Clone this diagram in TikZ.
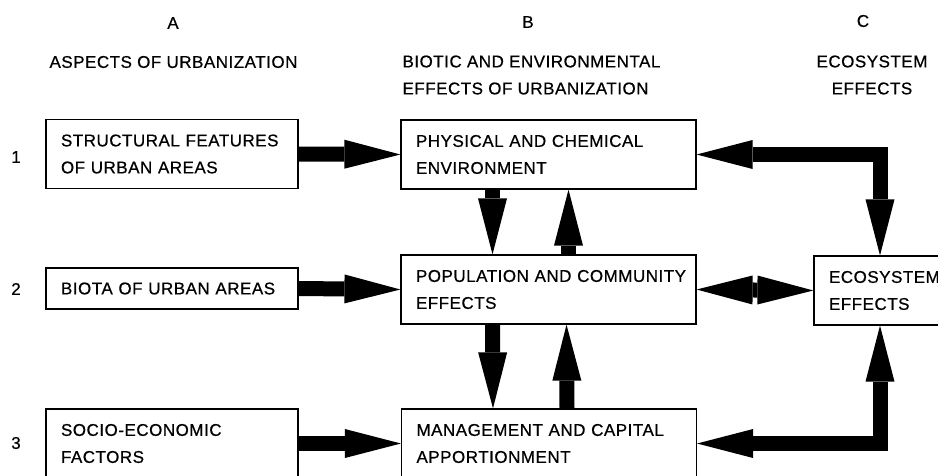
\documentclass[tikz,border=0pt]{standalone}
\usepackage{fontspec}
\setmainfont[LetterSpace=3, FakeBold=0.6]{Liberation Sans}
\usetikzlibrary{arrows.meta}

\begin{document}
\begin{tikzpicture}[x=1pt, y=-1pt,
    every node/.style={font=\fontsize{17pt}{27pt}\selectfont},
    box/.style={draw, line width=1.2pt, align=left, inner xsep=15pt, inner ysep=0pt, minimum height=69pt, text width=#1},
    fat/.style={line width=15pt, line join=miter, -{Triangle[length=56pt, width=29pt, line width=0pt]}},
    fatboth/.style={line width=15pt, line join=miter, {Triangle[length=56pt, width=29pt, line width=0pt]}-{Triangle[length=56pt, width=29pt, line width=0pt]}}]
  \useasboundingbox (0,0) rectangle (938,475);

  % headings
  \node (colA) at (173,23) {A};
  \node (colB) at (528,22) {B};
  \node (colC) at (863,21) {C};
  \node [anchor=west] (headA) at (46,62) {ASPECTS OF URBANIZATION};
  \node [anchor=west, align=left] (headB) at (399,75) {BIOTIC AND ENVIRONMENTAL\\EFFECTS OF URBANIZATION};
  \node [align=center] (headC) at (872,75) {ECOSYSTEM\\EFFECTS};
  \node (row1) at (16,157) {1};
  \node (row2) at (16,289) {2};
  \node (row3) at (16,443) {3};

  % boxes
  \node [box=222pt] (a1) at (172,154) {STRUCTURAL FEATURES\\OF URBAN AREAS};
  \node [box=222pt, minimum height=41pt] (a2) at (172,288.5) {BIOTA OF URBAN AREAS};
  \node [box=222pt] (a3) at (172,443.5) {SOCIO-ECONOMIC\\FACTORS};
  \node [box=265pt] (b1) at (548.5,154.5) {PHYSICAL AND CHEMICAL\\ENVIRONMENT};
  \node [box=265pt] (b2) at (548.5,289.5) {\mbox{POPULATION AND COMMUNITY}\\EFFECTS};
  \node [box=265pt] (b3) at (549,443.5) {MANAGEMENT AND CAPITAL\\APPORTIONMENT};
  \node [box=110pt] (c2) at (884,290.5) {ECOSYSTEM\\EFFECTS};

  % arrows
  \draw [fat] (a1.east) -- (b1.west);
  \draw [fat] (a2.east) -- (b2.west);
  \draw [fat] (a3.east) -- (b3.west);
  \draw [fat] ([xshift=-56pt]b1.south) -- ([xshift=-56pt]b2.north);
  \draw [fat] ([xshift=20pt]b2.north) -- ([xshift=20pt]b1.south);
  \draw [fat] ([xshift=-56pt]b2.south) -- ([xshift=-56pt]b3.north);
  \draw [fat] ([xshift=18pt]b3.north) -- ([xshift=18pt]b2.south);
  \draw [fatboth] (b2.east) -- (c2.west);
  \draw [fatboth] (b1.east) -| ([xshift=-4pt]c2.north);
  \draw [fatboth] (b3.east) -| ([xshift=-4pt]c2.south);
\end{tikzpicture}
\end{document}
